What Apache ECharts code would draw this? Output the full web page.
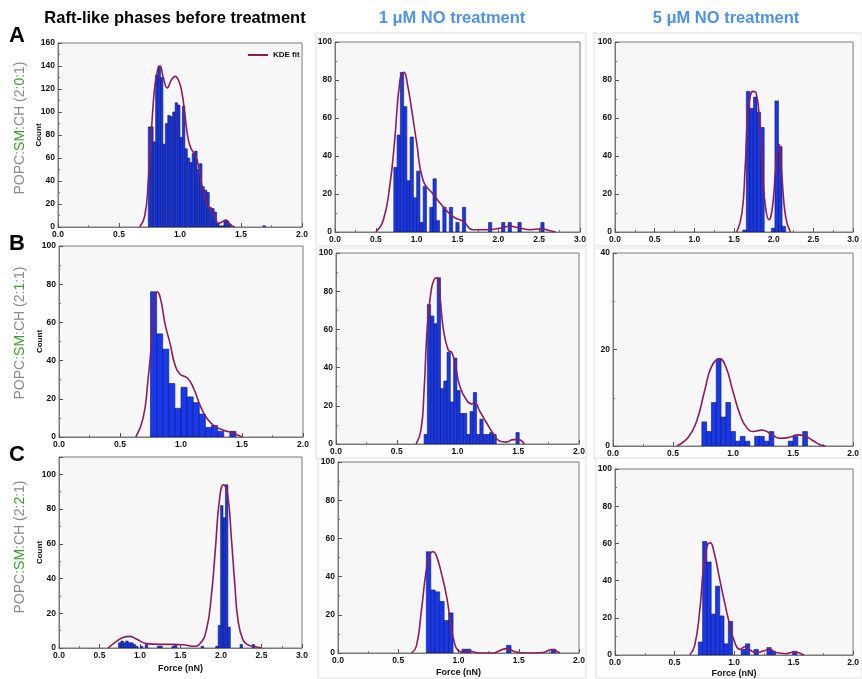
<!DOCTYPE html>
<html><head><meta charset="utf-8">
<script src="https://cdn.jsdelivr.net/npm/echarts@6/dist/echarts.min.js"></script>
<style>html,body{margin:0;padding:0;background:#fff}#c{width:862px;height:679px}</style>
</head><body><div id="c"></div>
<script>
// ---------- data ----------
const columnTitles = ['Raft-like phases before treatment', '1 μM NO treatment', '5 μM NO treatment'];
const rowLetters = ['A', 'B', 'C'];
const rowRatios = [['2', '0', '1'], ['2', '1', '1'], ['2', '2', '1']];
const xAxisTitle = 'Force (nN)';
const yAxisTitle = 'Count';
const legendLabel = 'KDE fit';

// Row A, before treatment
const a1BinStart = 0.74, a1BinWidth = 0.02;
const a1Counts = [87,87,74,132,140,130,72,90,97,96,100,108,106,78,105,68,60,56,64,66,50,55,35,32,30,17,16,13,3,1,1,6,5,2,0,0,0,0,0,0,0,0,0,0,0,0,0,1];
const a1KdeX = [0.67,0.712,0.74,0.767,0.795,0.82,0.836,0.863,0.896,0.93,0.96,0.986,1.014,1.04,1.068,1.096,1.123,1.15,1.178,1.205,1.233,1.26,1.288,1.315,1.35,1.378,1.405,1.425,1.45];
const a1KdeY = [0,10,40,86,124,138,140,130,121,128,131,128,118,98,76,67,63,54,37,25,18,13.4,7.6,3.2,4.7,6,3.2,1.2,0];

// Row A, 1 uM NO
const a2BinStart = 0.72, a2BinWidth = 0.04;
const a2Counts = [34,51,84,66,27,50,18,32,5,24,0,13,28,6,0,13,0,13,0,5,0,13,0,0,0,0,0,0,0,5,0,0,0,5,0,5,0,0,5,0,0,0,0,0,0,5];
const a2KdeX = [0.5,0.59,0.67,0.73,0.796,0.845,0.886,0.94,1.0,1.08,1.2,1.33,1.45,1.57,1.69,1.86,2.02,2.14,2.27,2.39,2.53,2.63,2.7];
const a2KdeY = [0,6,24,48,80,84,78,64,47,27,20,13,8,5.6,1.2,1.2,2,3,2,1.2,1.7,0.7,0];

// Row A, 5 uM NO
const a3BinStart = 1.61, a3BinWidth = 0.045;
const a3Counts = [1,74,65,71,63,55,0,0,2,69,45,3];
const a3KdeX = [1.535,1.6,1.64,1.68,1.74,1.78,1.82,1.86,1.9,1.94,1.985,2.03,2.07,2.1,2.15,2.21];
const a3KdeY = [0,10,34,64,74,73,59,31,12,6.5,13.5,36,46,31,8,0];

// Row B, before treatment
const b1BinStart = 0.75, b1BinWidth = 0.05;
const b1Counts = [76,54,46,28,15,26,21,18,12,5,6,3,0,3];
const b1KdeX = [0.63,0.69,0.73,0.76,0.78,0.805,0.83,0.87,0.91,0.95,0.99,1.05,1.1,1.16,1.21,1.27,1.35,1.43,1.5];
const b1KdeY = [0,10,30,51,71,76,73,59,49,38,33,31,26,16,10,6,3.5,2,0];

// Row B, 1 uM NO
const b2BinStart = 0.725, b2BinWidth = 0.027;
const b2Counts = [5,73,67,63,87,29,33,48,22,45,28,16,16,5,17,27,5,13,5,5,6,5,0,0,0,0,0,0,6];
const b2KdeX = [0.66,0.70,0.725,0.75,0.78,0.807,0.834,0.856,0.884,0.925,0.952,0.98,1.02,1.075,1.116,1.14,1.185,1.24,1.29,1.35,1.40,1.46,1.5,1.55];
const b2KdeY = [0,7.5,28,60,79,86,87,77,60,49,48,42,30,23,21,21.5,17,11,5.8,1.4,1,2.3,2.3,0];

// Row B, 5 uM NO
const b3BinStart = 0.74, b3BinWidth = 0.04;
const b3Counts = [5,3,9,18,6,9,3,1,2,1,0,2,2,1,3,0,0,0,1,2,0,3];
const b3KdeX = [0.533,0.63,0.70,0.765,0.82,0.887,0.94,0.996,1.064,1.118,1.17,1.24,1.31,1.39,1.47,1.54,1.595,1.66,1.73,1.77];
const b3KdeY = [0,1.9,5.4,11.6,16.4,18.1,16.4,11.6,6.1,3.7,3,3.3,2.6,1.6,1.8,2.3,2.1,1.2,0.2,0];

// Row C, before treatment
const c1BinStart = 0.735, c1BinWidth = 0.03;
const c1Counts = [3,4,3,4,3,3,2,1,0,1,0,2,0,0,0,0,1,1,0,0,0,0,1,2,0,0,0,0,0,0,0,0,0,0,1,0,0,0,0,0,1,13,82,75,94,12,0,0,0,0,2,0,0,0,0,2];
const c1KdeX = [0.605,0.71,0.79,0.87,0.955,1.08,1.24,1.41,1.53,1.65,1.74,1.82,1.88,1.93,1.98,2.03,2.08,2.13,2.17,2.21,2.27,2.33,2.44,2.5];
const c1KdeY = [0,3.8,6.1,6.7,5.2,2.5,2.1,2.1,1.9,1,2.5,10.5,29.7,56.5,85,94,89,62,37,16,4.8,1.9,0.6,0];

// Row C, 1 uM NO
const c2BinStart = 0.733, c2BinWidth = 0.037;
const c2Counts = [53,33,32,27,17,21,0,0,2,2,0,0,0,0,0,0,0,0,4,0,0,0,0,0,0,0,0,0,2];
const c2KdeX = [0.61,0.65,0.69,0.733,0.766,0.79,0.816,0.857,0.9,0.932,0.96,0.996,1.05,1.09,1.18,1.29,1.34,1.40,1.47,1.56,1.70,1.77,1.84];
const c2KdeY = [0,3.5,21,43.5,52,53,51,42,30,17,7,1.4,0.4,0.9,0,0,1.2,2.3,0.7,0,0.3,1.7,0];

// Row C, 5 uM NO
const c3BinStart = 0.70, c3BinWidth = 0.036;
const c3Counts = [7,61,50,22,37,21,6,18,0,0,3,6,0,3,0,0,4,2,0,0,0,0,2];
const c3KdeX = [0.627,0.668,0.71,0.745,0.778,0.8,0.833,0.874,0.915,0.956,0.997,1.052,1.093,1.134,1.19,1.244,1.3,1.353,1.436,1.504,1.586];
const c3KdeY = [0,4.8,22.7,47.8,59.4,60.3,55,42.4,29.9,18.2,8.4,3,4.5,2.7,1.3,2.1,3,1.3,0.7,1.6,0];

// axis ranges per panel (row-major)
const xMaxes = [2, 3, 3, 2, 2, 2, 3, 2, 2];
const yMaxes = [160, 100, 100, 100, 100, 40, 110, 100, 100];

// ---------- assembly ----------
const panelData = [
  [a1BinStart, a1BinWidth, a1Counts, a1KdeX, a1KdeY],
  [a2BinStart, a2BinWidth, a2Counts, a2KdeX, a2KdeY],
  [a3BinStart, a3BinWidth, a3Counts, a3KdeX, a3KdeY],
  [b1BinStart, b1BinWidth, b1Counts, b1KdeX, b1KdeY],
  [b2BinStart, b2BinWidth, b2Counts, b2KdeX, b2KdeY],
  [b3BinStart, b3BinWidth, b3Counts, b3KdeX, b3KdeY],
  [c1BinStart, c1BinWidth, c1Counts, c1KdeX, c1KdeY],
  [c2BinStart, c2BinWidth, c2Counts, c2KdeX, c2KdeY],
  [c3BinStart, c3BinWidth, c3Counts, c3KdeX, c3KdeY]
];

const layout = [
  {left: 58, top: 43, width: 244, height: 184},
  {left: 335, top: 42, width: 245, height: 190},
  {left: 615, top: 42, width: 244, height: 190},
  {left: 59, top: 246, width: 244, height: 191},
  {left: 336, top: 253, width: 243, height: 191},
  {left: 613, top: 253, width: 245, height: 193},
  {left: 59, top: 457, width: 243, height: 191},
  {left: 338, top: 462, width: 241, height: 191},
  {left: 615, top: 469, width: 243, height: 187}
];
const forceNameGap = [0,0,0,0,0,0,16,15,14];

const FONT = 'Liberation Sans, Arial, sans-serif';
const BAR_FILL = '#1538f0';
const BAR_EDGE = '#1a1a50';
const KDE_COLOR = '#8c1d5d';

const grids = [], xAxes = [], yAxes = [], series = [];
panelData.forEach((p, i) => {
  const [start, w, counts, kx, ky] = p;
  const L = layout[i];
  const row = Math.floor(i / 3), col = i % 3;
  grids.push({left: L.left, top: L.top, width: L.width, height: L.height,
    show: true, backgroundColor: '#f7f7f7', borderColor: '#7a7a7a', borderWidth: 1, containLabel: false});
  xAxes.push({
    type: 'value', gridIndex: i, min: 0, max: xMaxes[i], interval: 0.5,
    name: row === 2 ? xAxisTitle : '', nameLocation: 'middle', nameGap: forceNameGap[i], nameMoveOverlap: false,
    nameTextStyle: {fontFamily: FONT, fontWeight: 'bold', fontSize: 9, color: '#111'},
    axisLine: {show: true, lineStyle: {color: '#7a7a7a', width: 1}},
    axisTick: {show: true, inside: true, length: 4, lineStyle: {color: '#555'}},
    minorTick: {show: true, splitNumber: 2, length: 2, lineStyle: {color: '#777'}},
    splitLine: {show: false}, minorSplitLine: {show: false},
    axisLabel: {formatter: v => v.toFixed(1), fontFamily: FONT, fontWeight: 'bold', fontSize: 8.5, color: '#111', margin: 3}
  });
  yAxes.push({
    type: 'value', gridIndex: i, min: 0, max: yMaxes[i], interval: 20,
    name: col === 0 ? yAxisTitle : '', nameLocation: 'middle', nameGap: 15, nameRotate: 90, nameMoveOverlap: false,
    nameTextStyle: {fontFamily: FONT, fontWeight: 'bold', fontSize: 8, color: '#111'},
    axisLine: {show: true, lineStyle: {color: '#7a7a7a', width: 1}},
    axisTick: {show: true, inside: true, length: 4, lineStyle: {color: '#555'}},
    minorTick: {show: true, splitNumber: 2, length: 2, lineStyle: {color: '#777'}},
    splitLine: {show: false}, minorSplitLine: {show: false},
    axisLabel: {showMaxLabel: yMaxes[i] % 20 === 0, fontFamily: FONT, fontWeight: 'bold', fontSize: 8.5, color: '#111', margin: 3}
  });
  const bars = [];
  counts.forEach((c, j) => { if (c > 0) bars.push([start + j * w, start + (j + 1) * w, c]); });
  series.push({
    type: 'custom', name: 'Histogram', xAxisIndex: i, yAxisIndex: i, silent: true, clip: true,
    data: bars, encode: {x: [0, 1], y: 2},
    renderItem: (params, api) => {
      const p0 = api.coord([api.value(0), api.value(2)]);
      const p1 = api.coord([api.value(1), 0]);
      return {type: 'rect', shape: {x: p0[0], y: p0[1], width: p1[0] - p0[0], height: p1[1] - p0[1]},
        style: {fill: BAR_FILL, stroke: BAR_EDGE, lineWidth: 0.6}};
    }
  });
  series.push({
    type: 'line', name: legendLabel, xAxisIndex: i, yAxisIndex: i, z: 5,
    data: kx.map((x, j) => [x, ky[j]]), smooth: 0.5,
    symbol: 'none', showSymbol: false,
    lineStyle: {color: KDE_COLOR, width: 1.6}, itemStyle: {color: KDE_COLOR}
  });
});

const graphics = [];
// faint panel frames for treatment columns
const panelFrames = [
  [316, 33, 270, 213], [594, 33, 268, 213],
  [316, 248, 270, 211], [594, 248, 268, 211],
  [318, 458, 268, 220], [596, 458, 266, 220]
];
panelFrames.forEach(f => graphics.push({type: 'rect', z: -10, shape: {x: f[0], y: f[1], width: f[2], height: f[3]},
  style: {fill: '#fdfdfd', stroke: '#e0e0e0', lineWidth: 1}}));
// column titles
const titleX = [175, 452, 726];
const titleColors = ['#000000', '#4f92e3', '#4f92e3'];
columnTitles.forEach((t, k) => graphics.push({type: 'text', x: titleX[k], y: 18,
  style: {text: t, fill: titleColors[k], font: 'bold 16.5px ' + FONT, align: 'center', verticalAlign: 'middle'}}));
// row letters
const letterY = [36, 244, 455];
rowLetters.forEach((t, k) => graphics.push({type: 'text', x: 17, y: letterY[k],
  style: {text: t, fill: '#000', font: 'bold 22px ' + FONT, align: 'center', verticalAlign: 'middle'}}));
// rotated composition labels
const ratioY = [128, 333, 547];
rowRatios.forEach((r, k) => graphics.push({type: 'text', x: 20, y: ratioY[k], rotation: Math.PI / 2,
  style: {
    text: '{g|POPC:}{s|SM}{g|:CH (' + r[0] + ':}{s|' + r[1] + '}{g|:' + r[2] + ')}',
    align: 'center', verticalAlign: 'middle',
    rich: {
      g: {fill: '#8a8a8a', fontSize: 14, fontFamily: FONT},
      s: {fill: '#3c9b2f', fontSize: 14, fontFamily: FONT}
    }
  }}));

const chart = echarts.init(document.getElementById('c'), null, {renderer: 'canvas'});
chart.setOption({
  animation: false,
  backgroundColor: '#ffffff',
  grid: grids, xAxis: xAxes, yAxis: yAxes, series: series,
  legend: {data: [{name: legendLabel, icon: 'rect'}], left: 243, top: 46, itemWidth: 20, itemHeight: 2,
    itemGap: 4, textStyle: {fontFamily: FONT, fontWeight: 'bold', fontSize: 8, color: '#111'}, selectedMode: false},
  graphic: graphics
});
</script></body></html>
